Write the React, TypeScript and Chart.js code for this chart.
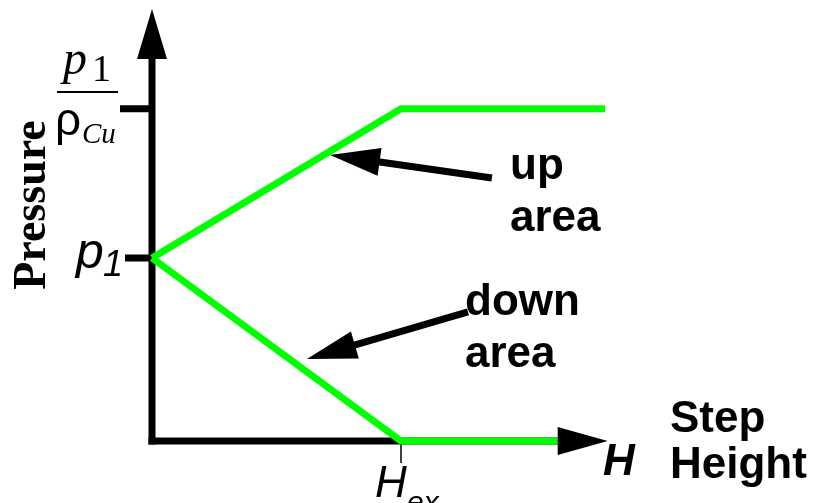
import React, { useEffect, useRef } from "react";
import { Chart, registerables } from "chart.js";

Chart.register(...registerables);

// ---- data (abstract units: H_ex = 1 on x, p1 = 1 on y) ----
const upX = [0, 1, 1.82];
const upY = [1, 1.815, 1.815];
const downX = [0, 1, 1.66];
const downY = [1, 0, 0];
const X_MAX = 2.0;
const Y_MAX = 2.36;
const X_AXIS_END = 1.83;
const TICK_VALUES = [1, 1.815];
const H_EX = 1;
// annotation arrows: [tailX, tailY, tipX, tipY]
const upArrow = [1.365, 1.437, 0.715, 1.563];
const downArrow = [1.269, 0.705, 0.622, 0.448];

const GREEN = "#00ff00";
const SANS = "'Liberation Sans', Arial, sans-serif";
const SERIF = "'Liberation Serif', 'Times New Roman', serif";

function arrowHead(ctx: CanvasRenderingContext2D, tx: number, ty: number, fx: number, fy: number, len: number, half: number) {
  const dx = tx - fx, dy = ty - fy;
  const d = Math.hypot(dx, dy);
  const ux = dx / d, uy = dy / d;
  const bx = tx - ux * len, by = ty - uy * len;
  ctx.beginPath();
  ctx.moveTo(tx, ty);
  ctx.lineTo(bx - uy * half, by + ux * half);
  ctx.lineTo(bx + uy * half, by - ux * half);
  ctx.closePath();
  ctx.fill();
  return [bx, by];
}

const diagramPlugin = {
  id: "diagram",
  beforeDatasetsDraw(chart: any) {
    const ctx: CanvasRenderingContext2D = chart.ctx;
    const X = (v: number) => chart.scales.x.getPixelForValue(v);
    const Y = (v: number) => chart.scales.y.getPixelForValue(v);
    const x0 = X(0), y0 = Y(0);
    ctx.save();
    ctx.strokeStyle = "#000";
    ctx.lineWidth = 7;
    ctx.lineCap = "butt";
    // y axis
    ctx.beginPath();
    ctx.moveTo(x0, y0 + 3.5);
    ctx.lineTo(x0, Y(Y_MAX) + 48);
    ctx.stroke();
    // x axis
    ctx.beginPath();
    ctx.moveTo(x0 - 3.5, y0);
    ctx.lineTo(X(X_AXIS_END) - 48, y0);
    ctx.stroke();
    // ticks
    ctx.beginPath();
    ctx.moveTo(x0 - 27, Y(TICK_VALUES[0]));
    ctx.lineTo(x0, Y(TICK_VALUES[0]));
    ctx.moveTo(x0 - 32, Y(TICK_VALUES[1]));
    ctx.lineTo(x0, Y(TICK_VALUES[1]));
    ctx.stroke();
    // H_ex tick
    ctx.lineWidth = 1.5;
    ctx.beginPath();
    ctx.moveTo(X(H_EX), y0);
    ctx.lineTo(X(H_EX), y0 + 22);
    ctx.stroke();
    ctx.restore();
  },
  afterDatasetsDraw(chart: any) {
    const ctx: CanvasRenderingContext2D = chart.ctx;
    const X = (v: number) => chart.scales.x.getPixelForValue(v);
    const Y = (v: number) => chart.scales.y.getPixelForValue(v);
    const x0 = X(0), y0 = Y(0);
    ctx.save();
    ctx.fillStyle = "#000";
    ctx.strokeStyle = "#000";
    // axis arrowheads
    arrowHead(ctx, x0, Y(Y_MAX), x0, y0, 50, 15);
    arrowHead(ctx, X(X_AXIS_END), y0, x0, y0, 50, 14);
    // annotation arrows
    for (const a of [upArrow, downArrow]) {
      const tx = X(a[0]), ty = Y(a[1]), hx = X(a[2]), hy = Y(a[3]);
      const [bx, by] = arrowHead(ctx, hx, hy, tx, ty, 50, 14);
      ctx.lineWidth = 7;
      ctx.beginPath();
      ctx.moveTo(tx, ty);
      ctx.lineTo(bx + (hx - bx) * 0.1, by + (hy - by) * 0.1);
      ctx.stroke();
    }
    ctx.textAlign = "left";
    ctx.textBaseline = "alphabetic";
    // labels
    ctx.font = `bold 44px ${SANS}`;
    ctx.fillText("up", 510, 179);
    ctx.fillText("area", 510, 231);
    ctx.fillText("down", 465, 315);
    ctx.fillText("area", 465, 367);
    ctx.fillText("Step", 670, 432);
    ctx.fillText("Height", 670, 478);
    ctx.font = `italic bold 44px ${SANS}`;
    ctx.fillText("H", 603, 475);
    // H_ex
    ctx.font = `italic 44px ${SANS}`;
    ctx.fillText("H", 375, 497);
    ctx.font = `italic 30px ${SANS}`;
    ctx.fillText("ex", 407, 512);
    // p1 at tick
    ctx.font = `italic 50px ${SANS}`;
    ctx.fillText("p", 76, 268);
    ctx.font = `italic 36px ${SANS}`;
    ctx.fillText("1", 103, 276);
    // fraction p1 / rho_Cu
    ctx.font = `italic 48px ${SERIF}`;
    ctx.fillText("p", 63, 74);
    ctx.font = `38px ${SERIF}`;
    ctx.fillText("1", 92, 81);
    ctx.fillRect(57, 91, 61, 2);
    ctx.font = `46px ${SANS}`;
    ctx.fillText("ρ", 55, 135);
    ctx.font = `italic 29px ${SERIF}`;
    ctx.fillText("Cu", 82, 143);
    // Pressure (rotated)
    ctx.translate(45, 205);
    ctx.rotate(-Math.PI / 2);
    ctx.font = `bold 46px ${SERIF}`;
    ctx.textAlign = "center";
    ctx.fillText("Pressure", 0, 0);
    ctx.restore();
  },
};

export default function App() {
  const ref = useRef<HTMLCanvasElement>(null);
  useEffect(() => {
    if (!ref.current) return;
    const toPts = (xs: number[], ys: number[]) => xs.map((x, i) => ({ x, y: ys[i] }));
    const chart = new Chart(ref.current, {
      type: "line",
      data: {
        datasets: [
          { label: "up", data: toPts(upX, upY), borderColor: GREEN, borderWidth: 7, pointRadius: 0, tension: 0, clip: false as any, borderJoinStyle: "miter" },
          { label: "down", data: toPts(downX, downY), borderColor: GREEN, borderWidth: 7, pointRadius: 0, tension: 0, clip: false as any, borderJoinStyle: "miter" },
        ],
      },
      options: {
        responsive: false,
        animation: false,
        devicePixelRatio: 1,
        layout: { padding: { left: 152, right: 166, top: 9, bottom: 62 } },
        scales: {
          x: { type: "linear", min: 0, max: X_MAX, display: false },
          y: { type: "linear", min: 0, max: Y_MAX, display: false },
        },
        plugins: { legend: { display: false }, tooltip: { enabled: false } },
      },
      plugins: [diagramPlugin],
    });
    return () => chart.destroy();
  }, []);
  return (
    <div style={{ position: "absolute", left: 0, top: 0, width: 816, height: 503, background: "#fff" }}>
      <canvas ref={ref} width={816} height={503} style={{ width: 816, height: 503 }} />
    </div>
  );
}
